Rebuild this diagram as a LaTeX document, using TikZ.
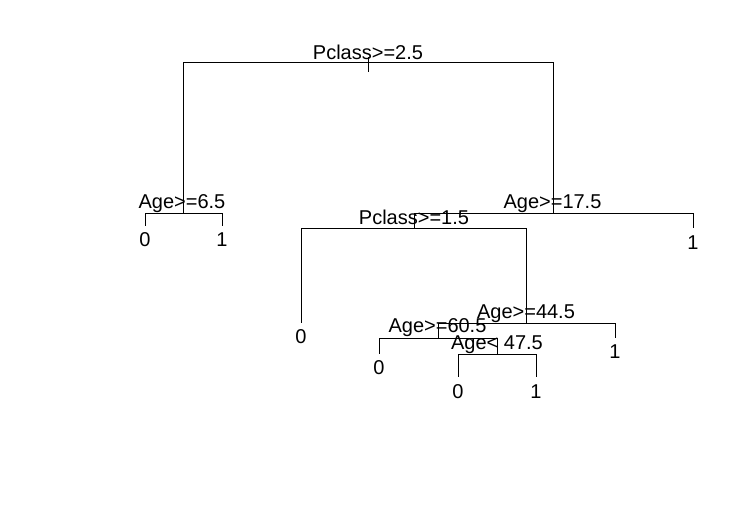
\documentclass[tikz,border=0pt]{standalone}
\usepackage{fontspec}
\setmainfont{Liberation Sans}
\begin{document}
\begin{tikzpicture}[x=1pt,y=-1pt,
  lab/.style={anchor=base,inner sep=0pt,font=\fontsize{20}{24}\selectfont},
  br/.style={line width=0.9pt,black}]
\useasboundingbox[fill=white] (0,0) rectangle (742,512);
% node points
\coordinate (rt) at (368,57);
\coordinate (rb) at (368,72);
\coordinate (n1) at (368,62);
\coordinate (n2) at (183,213);
\coordinate (n3) at (553,213);
\coordinate (l4) at (145,226);
\coordinate (l5) at (222,226);
\coordinate (n6) at (414,228);
\coordinate (l7) at (693,228);
\coordinate (l12) at (301,323);
\coordinate (n13) at (526,323);
\coordinate (n26) at (438,338);
\coordinate (l27) at (615,338);
\coordinate (l52) at (379,354);
\coordinate (n53) at (497,354);
\coordinate (l106) at (458,377);
\coordinate (l107) at (536,377);
% branches
\draw[br] (rt) -- (rb);
\draw[br] (n1) -| (n2);
\draw[br] (n1) -| (n3);
\draw[br] (n2) -| (l4);
\draw[br] (n2) -| (l5);
\draw[br] (n3) -| (n6);
\draw[br] (n3) -| (l7);
\draw[br] (n6) -| (l12);
\draw[br] (n6) -| (n13);
\draw[br] (n13) -| (n26);
\draw[br] (n13) -| (l27);
\draw[br] (n26) -| (l52);
\draw[br] (n26) -| (n53);
\draw[br] (n53) -| (l106);
\draw[br] (n53) -| (l107);
% split labels
\node[lab] (t1) at (368,59) {Pclass>=2.5};
\node[lab] (t2) at (182,208) {Age>=6.5};
\node[lab] (t3) at (552.5,208) {Age>=17.5};
\node[lab] (t6) at (414,224) {Pclass>=1.5};
\node[lab] (t13) at (526,318) {Age>=44.5};
\node[lab] (t26) at (437.5,332) {Age>=60.5};
\node[lab] (t53) at (497,349) {Age< 47.5};
% leaf labels
\node[lab] (y4) at (145,246) {0};
\node[lab] (y5) at (222,246) {1};
\node[lab] (y7) at (693,249) {1};
\node[lab] (y12) at (301,343) {0};
\node[lab] (y27) at (615,358) {1};
\node[lab] (y52) at (379,374) {0};
\node[lab] (y106) at (458,398) {0};
\node[lab] (y107) at (536,398) {1};
\end{tikzpicture}
\end{document}
